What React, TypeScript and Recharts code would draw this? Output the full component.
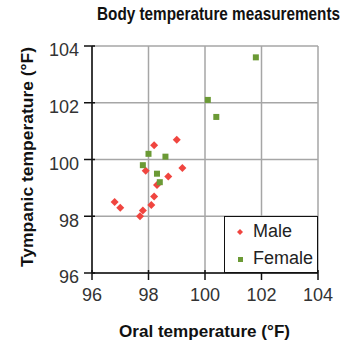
import React from 'react';
import { ScatterChart, Scatter, XAxis, YAxis, CartesianGrid } from 'recharts';

// oral (x) vs tympanic (y), degrees F
const maleOral = [98.2, 99.0, 97.9, 99.2, 98.7, 98.3, 98.2, 98.1, 96.8, 97.0, 97.8, 97.7];
const maleTympanic = [100.5, 100.7, 99.6, 99.7, 99.4, 99.1, 98.7, 98.4, 98.5, 98.3, 98.2, 98.0];
const femaleOral = [101.8, 100.1, 100.4, 98.0, 98.6, 97.8, 98.3, 98.4];
const femaleTympanic = [103.6, 102.1, 101.5, 100.2, 100.1, 99.8, 99.5, 99.2];
const axisTicks = [96, 98, 100, 102, 104];

const maleData = maleOral.map((x, i) => ({ x, y: maleTympanic[i] }));
const femaleData = femaleOral.map((x, i) => ({ x, y: femaleTympanic[i] }));

const RED = '#f0453f';
const GREEN = '#6b9a35';
const FONT = '"Liberation Sans", Arial, sans-serif';

const Diamond = (props: any) => {
  const { cx, cy } = props;
  const r = 4;
  return <polygon points={`${cx},${cy - r} ${cx + r},${cy} ${cx},${cy + r} ${cx - r},${cy}`} fill={RED} />;
};

const Square = (props: any) => {
  const { cx, cy } = props;
  return <rect x={cx - 3} y={cy - 3} width={6} height={6} fill={GREEN} />;
};

// ticks that cross the axis line a little
const XTick = (props: any) => {
  const { x, y, payload } = props;
  const axisY = y - 7 - 8;
  return (
    <g>
      <line x1={x} x2={x} y1={axisY - 3} y2={axisY + 7} stroke="#111" strokeWidth={1.5} />
      <text x={x} y={y} dy="0.71em" textAnchor="middle" fontSize={18} fill="#333" fontFamily={FONT}>
        {payload.value}
      </text>
    </g>
  );
};

const YTick = (props: any) => {
  const { x, y, payload } = props;
  const axisX = x + 5 + 8;
  return (
    <g>
      <line x1={axisX - 8} x2={axisX + 3} y1={y} y2={y} stroke="#111" strokeWidth={1.5} />
      <text x={x} y={y + 4} dy="0.355em" textAnchor="end" fontSize={18} fill="#333" fontFamily={FONT}>
        {payload.value}
      </text>
    </g>
  );
};

export default function App() {
  return (
    <div style={{ position: 'absolute', left: 0, top: 0, width: 352, height: 344, background: '#fff' }}>
      <ScatterChart width={352} height={344} margin={{ top: 46, right: 34, bottom: 0, left: 32 }}>
        <CartesianGrid stroke="#a6a6a6" strokeWidth={1.5} horizontalValues={axisTicks} verticalValues={axisTicks} />
        <XAxis
          type="number"
          dataKey="x"
          domain={[96, 104]}
          ticks={axisTicks}
          tickSize={7}
          tickMargin={8}
          tickLine={false}
          tick={<XTick />}
          axisLine={{ stroke: '#111', strokeWidth: 1.5 }}
          height={71}
        />
        <YAxis
          type="number"
          dataKey="y"
          domain={[96, 104]}
          ticks={axisTicks}
          tickSize={8}
          tickMargin={5}
          tickLine={false}
          tick={<YTick />}
          axisLine={{ stroke: '#111', strokeWidth: 1.5 }}
          width={60}
        />
        <Scatter name="Male" data={maleData} shape={<Diamond />} isAnimationActive={false} />
        <Scatter name="Female" data={femaleData} shape={<Square />} isAnimationActive={false} />
      </ScatterChart>

      {/* titles, squeezed to look like the condensed face of the original */}
      <svg width={352} height={344} style={{ position: 'absolute', left: 0, top: 0, pointerEvents: 'none' }}>
        <text x={97} y={20} fontFamily={FONT} fontWeight="bold" fontSize={19} fill="#111" textLength={243} lengthAdjust="spacingAndGlyphs">
          Body temperature measurements
        </text>
        <text x={119} y={337} fontFamily={FONT} fontWeight="bold" fontSize={16.5} fill="#111" textLength={171} lengthAdjust="spacingAndGlyphs">
          Oral temperature (°F)
        </text>
        <text
          x={0}
          y={0}
          transform="translate(32.5,267) rotate(-90)"
          fontFamily={FONT}
          fontWeight="bold"
          fontSize={16.5}
          fill="#111"
          textLength={220}
          lengthAdjust="spacingAndGlyphs"
        >
          Tympanic temperature (°F)
        </text>
      </svg>

      <div
        style={{
          position: 'absolute',
          left: 224,
          top: 216,
          width: 92,
          height: 55,
          border: '1.5px solid #111',
          background: '#fff',
          fontFamily: FONT,
          fontSize: 18,
          color: '#222',
        }}
      >
        <div style={{ display: 'flex', alignItems: 'center', height: 27, marginTop: 1 }}>
          <svg width={28} height={20}>
            <polygon points="15,7 18,10 15,13 12,10" fill={RED} />
          </svg>
          <span>Male</span>
        </div>
        <div style={{ display: 'flex', alignItems: 'center', height: 27 }}>
          <svg width={28} height={20}>
            <rect x={13} y={8} width={5} height={5} fill={GREEN} />
          </svg>
          <span>Female</span>
        </div>
      </div>
    </div>
  );
}
